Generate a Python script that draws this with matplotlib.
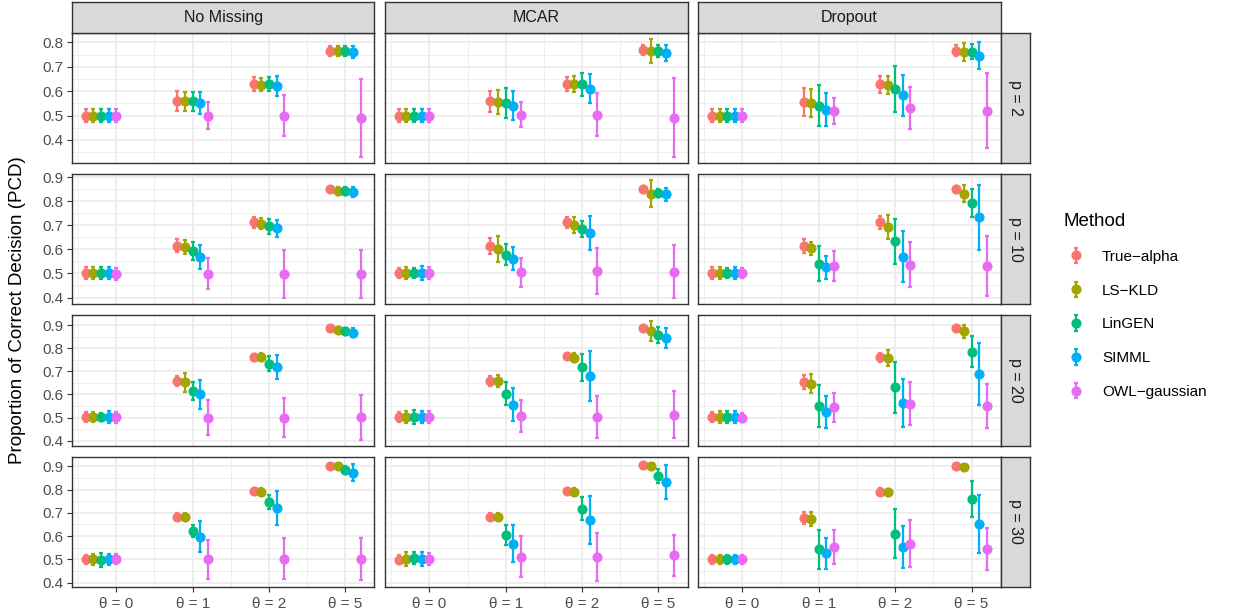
import numpy as np
import matplotlib
matplotlib.use("Agg")
import matplotlib.pyplot as plt
from matplotlib.ticker import FixedLocator, MultipleLocator

plt.rcParams['font.family'] = ['Liberation Sans', 'DejaVu Sans']

# ---------------- data ----------------
methods = ["True\u2212alpha", "LS\u2212KLD", "LinGEN", "SIMML", "OWL\u2212gaussian"]
colors = ["#F8766D", "#A3A500", "#00BF7D", "#00B0F6", "#E76BF3"]
theta_labels = ["\u03b8 = 0", "\u03b8 = 1", "\u03b8 = 2", "\u03b8 = 5"]
scenarios = ["No Missing", "MCAR", "Dropout"]
p_labels = ["p = 2", "p = 10", "p = 20", "p = 30"]

# rows: methods (True-alpha, LS-KLD, LinGEN, SIMML, OWL-gaussian); cols: theta = 0,1,2,5
mean_p2_none = [[0.500, 0.560, 0.629, 0.766], [0.500, 0.558, 0.627, 0.765], [0.500, 0.558, 0.628, 0.765],
                [0.500, 0.551, 0.622, 0.762], [0.500, 0.500, 0.500, 0.489]]
err_p2_none = [[0.027, 0.040, 0.028, 0.020], [0.027, 0.040, 0.028, 0.020], [0.027, 0.040, 0.028, 0.020],
               [0.027, 0.046, 0.040, 0.025], [0.027, 0.054, 0.085, 0.160]]
mean_p2_mcar = [[0.500, 0.558, 0.630, 0.769], [0.500, 0.555, 0.628, 0.764], [0.500, 0.551, 0.628, 0.764],
                [0.500, 0.540, 0.610, 0.758], [0.500, 0.504, 0.504, 0.492]]
err_p2_mcar = [[0.027, 0.044, 0.030, 0.022], [0.027, 0.048, 0.033, 0.050], [0.027, 0.060, 0.046, 0.025],
               [0.027, 0.059, 0.060, 0.033], [0.027, 0.052, 0.089, 0.160]]
mean_p2_drop = [[0.500, 0.554, 0.628, 0.766], [0.500, 0.551, 0.625, 0.762], [0.500, 0.540, 0.609, 0.762],
                [0.500, 0.524, 0.583, 0.745], [0.500, 0.519, 0.529, 0.519]]
err_p2_drop = [[0.027, 0.057, 0.036, 0.022], [0.027, 0.056, 0.038, 0.037], [0.027, 0.084, 0.094, 0.030],
               [0.027, 0.067, 0.085, 0.056], [0.027, 0.053, 0.086, 0.154]]

mean_p10_none = [[0.503, 0.615, 0.712, 0.850], [0.503, 0.609, 0.707, 0.842], [0.502, 0.592, 0.696, 0.842],
                 [0.503, 0.569, 0.687, 0.839], [0.499, 0.499, 0.496, 0.497]]
err_p10_none = [[0.025, 0.027, 0.022, 0.010], [0.025, 0.030, 0.022, 0.017], [0.025, 0.037, 0.030, 0.017],
                [0.025, 0.051, 0.034, 0.020], [0.025, 0.065, 0.100, 0.100]]
mean_p10_mcar = [[0.502, 0.614, 0.713, 0.852], [0.502, 0.602, 0.702, 0.832], [0.502, 0.578, 0.684, 0.835],
                 [0.503, 0.562, 0.668, 0.830], [0.500, 0.505, 0.510, 0.507]]
err_p10_mcar = [[0.022, 0.034, 0.022, 0.010], [0.025, 0.055, 0.034, 0.056], [0.022, 0.044, 0.033, 0.017],
                [0.030, 0.048, 0.069, 0.027], [0.025, 0.060, 0.096, 0.110]]
mean_p10_drop = [[0.502, 0.614, 0.712, 0.850], [0.500, 0.604, 0.694, 0.832], [0.502, 0.541, 0.633, 0.793],
                 [0.502, 0.526, 0.570, 0.734], [0.502, 0.530, 0.537, 0.530]]
err_p10_drop = [[0.025, 0.030, 0.028, 0.015], [0.025, 0.027, 0.049, 0.035], [0.022, 0.072, 0.094, 0.059],
                [0.025, 0.047, 0.107, 0.135], [0.022, 0.063, 0.093, 0.124]]

mean_p20_none = [[0.502, 0.658, 0.762, 0.886], [0.502, 0.652, 0.761, 0.880], [0.501, 0.617, 0.734, 0.873],
                 [0.502, 0.600, 0.719, 0.868], [0.501, 0.500, 0.500, 0.501]]
err_p20_none = [[0.022, 0.020, 0.015, 0.010], [0.020, 0.043, 0.018, 0.010], [0.018, 0.039, 0.033, 0.017],
                [0.025, 0.062, 0.053, 0.020], [0.025, 0.077, 0.083, 0.097]]
mean_p20_mcar = [[0.502, 0.658, 0.765, 0.889], [0.502, 0.658, 0.759, 0.875], [0.502, 0.604, 0.717, 0.858],
                 [0.502, 0.556, 0.679, 0.846], [0.502, 0.507, 0.504, 0.513]]
err_p20_mcar = [[0.022, 0.020, 0.010, 0.008], [0.025, 0.025, 0.020, 0.042], [0.030, 0.048, 0.058, 0.036],
                [0.025, 0.071, 0.108, 0.043], [0.025, 0.068, 0.091, 0.100]]
mean_p20_drop = [[0.502, 0.654, 0.761, 0.887], [0.502, 0.647, 0.758, 0.873], [0.502, 0.550, 0.631, 0.786],
                 [0.502, 0.524, 0.563, 0.689], [0.500, 0.544, 0.560, 0.550]]
err_p20_drop = [[0.022, 0.030, 0.020, 0.010], [0.025, 0.040, 0.036, 0.028], [0.025, 0.089, 0.110, 0.068],
                [0.025, 0.069, 0.103, 0.133], [0.020, 0.064, 0.092, 0.096]]

mean_p30_none = [[0.501, 0.684, 0.792, 0.903], [0.500, 0.684, 0.791, 0.899], [0.499, 0.621, 0.748, 0.884],
                 [0.500, 0.598, 0.721, 0.873], [0.502, 0.500, 0.503, 0.500]]
err_p30_none = [[0.020, 0.015, 0.012, 0.006], [0.025, 0.015, 0.015, 0.008], [0.030, 0.026, 0.030, 0.015],
                [0.025, 0.067, 0.074, 0.036], [0.020, 0.085, 0.087, 0.090]]
mean_p30_mcar = [[0.499, 0.684, 0.792, 0.906], [0.500, 0.684, 0.791, 0.900], [0.506, 0.604, 0.718, 0.858],
                 [0.503, 0.568, 0.668, 0.833], [0.503, 0.511, 0.511, 0.517]]
err_p30_mcar = [[0.020, 0.015, 0.012, 0.010], [0.030, 0.015, 0.015, 0.008], [0.025, 0.043, 0.048, 0.030],
                [0.030, 0.080, 0.103, 0.072], [0.025, 0.088, 0.103, 0.090]]
mean_p30_drop = [[0.500, 0.678, 0.791, 0.903], [0.500, 0.675, 0.788, 0.897], [0.500, 0.543, 0.610, 0.759],
                 [0.500, 0.526, 0.554, 0.652], [0.500, 0.554, 0.567, 0.546]]
err_p30_drop = [[0.020, 0.026, 0.015, 0.006], [0.020, 0.030, 0.015, 0.008], [0.020, 0.082, 0.105, 0.076],
                [0.020, 0.067, 0.089, 0.123], [0.020, 0.072, 0.101, 0.090]]

means = [[mean_p2_none, mean_p2_mcar, mean_p2_drop],
         [mean_p10_none, mean_p10_mcar, mean_p10_drop],
         [mean_p20_none, mean_p20_mcar, mean_p20_drop],
         [mean_p30_none, mean_p30_mcar, mean_p30_drop]]
errs = [[err_p2_none, err_p2_mcar, err_p2_drop],
        [err_p10_none, err_p10_mcar, err_p10_drop],
        [err_p20_none, err_p20_mcar, err_p20_drop],
        [err_p30_none, err_p30_mcar, err_p30_drop]]

# ---------------- layout ----------------
W, H = 1242, 616
fig = plt.figure(figsize=(W / 100, H / 100), dpi=100)


def px_axes(x, y, w, h):
    return fig.add_axes([x / W, 1 - (y + h) / H, w / W, h / H])


col_left = [72, 385.1, 698.2]
pw = 302.4
row_top = [33, 174.2, 315.4, 456.6]
ph = 130.2

group_pos = np.array([0.8, 2.0, 3.0, 4.0])
tick_pos = [1, 2, 3, 4]
dodge = 0.1
offsets = [(i - 2) * dodge for i in range(5)]

# x limits (ggplot-style 5% expansion)
xmin = group_pos.min() + offsets[0]
xmax = group_pos.max() + offsets[-1]
xr = xmax - xmin
xlim = (xmin - 0.05 * xr, xmax + 0.05 * xr)

grid_c = "#EBEBEB"
frame_c = "#333333"
handles = []

for r in range(4):
    lo = min(np.min(np.array(means[r][c]) - np.array(errs[r][c])) for c in range(3))
    hi = max(np.max(np.array(means[r][c]) + np.array(errs[r][c])) for c in range(3))
    yr = hi - lo
    ylim = (lo - 0.05 * yr, hi + 0.05 * yr)
    for c in range(3):
        ax = px_axes(col_left[c], row_top[r], pw, ph)
        ax.set_facecolor("white")
        ax.set_xlim(*xlim)
        ax.set_ylim(*ylim)
        ax.xaxis.set_major_locator(FixedLocator(tick_pos))
        ax.xaxis.set_minor_locator(FixedLocator([0.5, 1.5, 2.5, 3.5]))
        ax.yaxis.set_major_locator(MultipleLocator(0.1))
        ax.yaxis.set_minor_locator(MultipleLocator(0.05))
        ax.grid(which="major", color=grid_c, lw=1.2, zorder=0)
        ax.grid(which="minor", color=grid_c, lw=0.6, zorder=0)
        ax.set_axisbelow(True)
        for s in ax.spines.values():
            s.set_color(frame_c)
            s.set_linewidth(1.0)
        ax.tick_params(which="minor", length=0)
        ax.tick_params(which="major", length=3.5, width=0.8, color=frame_c,
                       labelcolor="#4D4D4D", labelsize=11, pad=2.5)
        if c == 0:
            ax.yaxis.set_major_formatter(matplotlib.ticker.FormatStrFormatter("%.1f"))
        else:
            ax.tick_params(axis="y", which="major", length=0, labelleft=False)
        if r == 3:
            ax.set_xticklabels(theta_labels)
            ax.tick_params(axis="x", pad=4)
        else:
            ax.tick_params(axis="x", which="major", length=0, labelbottom=False)

        m = np.array(means[r][c])
        e = np.array(errs[r][c])
        for i in range(5):
            cont = ax.errorbar(group_pos + offsets[i], m[i], yerr=e[i], fmt="o",
                               color=colors[i], ms=6.3, elinewidth=1.6,
                               capsize=1.6, capthick=1.6, zorder=3 + i)
            if r == 0 and c == 0:
                handles.append(cont)

        # right strips
        if c == 2:
            sax = px_axes(col_left[2] + pw, row_top[r], 29.5, ph)
            sax.set_facecolor("#D9D9D9")
            sax.set_xticks([]); sax.set_yticks([])
            for s in sax.spines.values():
                s.set_color(frame_c); s.set_linewidth(1.0)
            sax.text(0.5, 0.5, p_labels[r], rotation=-90, ha="center", va="center",
                     fontsize=11.5, color="#1A1A1A", transform=sax.transAxes)

# top strips
for c in range(3):
    sax = px_axes(col_left[c], 2, pw, 31)
    sax.set_facecolor("#D9D9D9")
    sax.set_xticks([]); sax.set_yticks([])
    for s in sax.spines.values():
        s.set_color(frame_c); s.set_linewidth(1.0)
    sax.text(0.5, 0.5, scenarios[c], ha="center", va="center",
             fontsize=11.5, color="#1A1A1A", transform=sax.transAxes)

fig.text(18 / W, 1 - 310 / H, "Proportion of Correct Decision (PCD)", rotation=90,
         ha="center", va="center", fontsize=13.5, color="black")

leg = fig.legend(handles, methods, loc="center left", bbox_to_anchor=(1050 / W, 1 - 306 / H),
                 frameon=False, title="Method", fontsize=11, title_fontsize=13.5,
                 labelspacing=1.3, handlelength=1.6, handletextpad=0.9, alignment="left")

fig.savefig("out.png", dpi=100)
